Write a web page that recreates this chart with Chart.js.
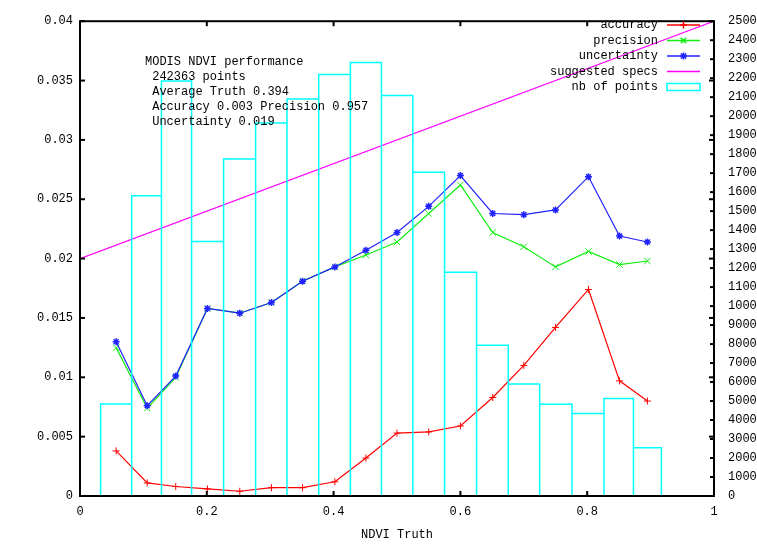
<!DOCTYPE html>
<html>
<head>
<meta charset="utf-8">
<script src="https://cdn.jsdelivr.net/npm/chart.js"></script>
<style>
body{margin:0;background:#fff}
canvas{display:block}
</style>
</head>
<body>
<canvas id="ndvi_chart" width="757" height="544"></canvas>
<script>
// mean NDVI truth of each bin
var truth = [0.057,0.106,0.151,0.201,0.252,0.302,0.351,0.402,0.451,0.5,0.55,0.6,0.651,0.7,0.75,0.802,0.851,0.895]
var accuracy = [0.0038,0.0011,0.0008,0.0006,0.0004,0.0007,0.0007,0.0012,0.0032,0.0053,0.0054,0.0059,0.0083,0.011,0.0142,0.0174,0.0097,0.008]
var precision = [0.0125,0.0074,0.0100,0.0158,0.0154,0.0163,0.0181,0.0193,0.0203,0.0214,0.0238,0.0262,0.0222,0.021,0.0193,0.0206,0.0195,0.0198]
var uncertainty = [0.0130,0.0076,0.0101,0.0158,0.0154,0.0163,0.0181,0.0193,0.0207,0.0222,0.0244,0.0270,0.0238,0.0237,0.0241,0.0269,0.0219,0.0214]
var nbPoints = [4850,15810,21850,13400,17750,19640,20900,22190,22830,21090,17050,11780,7940,5900,4830,4350,5140,2540]
var specX = [0,1]
var specY = [0.02,0.04]

var xTickValues = [0,0.2,0.4,0.6,0.8,1]
var xTickLabels = ['0','0.2','0.4','0.6','0.8','1']
var leftTickValues = [0,0.005,0.01,0.015,0.02,0.025,0.03,0.035,0.04]
var leftTickLabels = ['0','0.005','0.01','0.015','0.02','0.025','0.03','0.035','0.04']
var rightTickValues = [0,1000,2000,3000,4000,5000,6000,7000,8000,9000,10000,11000,12000,13000,14000,15000,16000,17000,18000,19000,20000,21000,22000,23000,24000,25000]
var rightTickLabels = ['0','1000','2000','3000','4000','5000','6000','7000','8000','9000','1000','1100','1200','1300','1400','1500','1600','1700','1800','1900','2000','2100','2200','2300','2400','2500']

var infoLines = ['MODIS NDVI performance',' 242363 points',' Average Truth 0.394',' Accuracy 0.003 Precision 0.957',' Uncertainty 0.019']
var keyNames = ['accuracy','precision','uncertainty','suggested specs','nb of points']

var FONT = {family:'Liberation Mono', size:12}
var RED = '#ff0000', GREEN = '#11ee11', BLUE = '#2222ff', MAGENTA = '#ff00ff', CYAN = '#00ffff'

function pts(xs, ys){
    return xs.map(function(x,i){ return {x:x, y:ys[i]} })
}
// gnuplot "boxes": each box reaches half way to its neighbours
function boxOutline(xs, hs){
    var out = []
    for(var i=0;i<xs.length;i++){
        var l = i>0 ? (xs[i-1]+xs[i])/2 : xs[i]-(xs[i+1]-xs[i])/2
        var r = i<xs.length-1 ? (xs[i]+xs[i+1])/2 : xs[i]+(xs[i]-xs[i-1])/2
        out.push({x:l,y:0},{x:l,y:hs[i]},{x:r,y:hs[i]},{x:r,y:0})
    }
    return out
}

function line(ctx,x1,y1,x2,y2){
    ctx.beginPath(); ctx.moveTo(x1,y1); ctx.lineTo(x2,y2); ctx.stroke()
}
function marker(ctx,type,x,y,r){
    if(type=='cross' || type=='star'){
        line(ctx,x-r,y,x+r,y); line(ctx,x,y-r,x,y+r)
    }
    if(type=='crossRot' || type=='star'){
        var d = r*0.75
        line(ctx,x-d,y-d,x+d,y+d); line(ctx,x-d,y+d,x+d,y-d)
    }
}

var gnuFrame = {
    id:'gnuFrame',
    afterDatasetsDraw(chart){
        var ctx = chart.ctx, a = chart.chartArea
        var sx = chart.scales.x, sy = chart.scales.y, sy2 = chart.scales.y2
        ctx.save()
        ctx.strokeStyle = '#000'
        ctx.lineWidth = 2
        xTickValues.forEach(function(v){
            var px = sx.getPixelForValue(v)
            line(ctx,px,a.bottom,px,a.bottom-5)
            line(ctx,px,a.top,px,a.top+5)
        })
        leftTickValues.forEach(function(v){
            var py = sy.getPixelForValue(v)
            line(ctx,a.left,py,a.left+5,py)
            line(ctx,a.right,py,a.right-5,py)
        })
        rightTickValues.forEach(function(v){
            var py = sy2.getPixelForValue(v)
            line(ctx,a.right,py,a.right-4,py)
        })
        ctx.strokeRect(a.left,a.top,a.right-a.left,a.bottom-a.top)

        // info text
        ctx.fillStyle = '#000'
        ctx.font = FONT.size+'px '+FONT.family
        ctx.textBaseline = 'middle'
        ctx.textAlign = 'left'
        infoLines.forEach(function(t,i){
            ctx.fillText(t,145,62+i*15)
        })

        // key, gnuplot style: text then sample
        var styles = [[RED,'cross'],[GREEN,'crossRot'],[BLUE,'star'],[MAGENTA,null],[CYAN,'box']]
        ctx.textAlign = 'right'
        keyNames.forEach(function(name,i){
            var y = 25+i*15.5
            ctx.fillStyle = '#000'
            ctx.fillText(name,658,y)
            ctx.strokeStyle = styles[i][0]
            ctx.lineWidth = 1.5
            if(styles[i][1]=='box'){
                ctx.strokeRect(667,y-3.5,33,7)
            }else{
                line(ctx,667,y,700,y)
                if(styles[i][1]){
                    marker(ctx,styles[i][1],683.5,y,3.5)
                }
            }
        })
        ctx.restore()
    }
}

var ctx = document.getElementById('ndvi_chart').getContext('2d')
var chart1 = new Chart(ctx,{
    type:'line',
    plugins:[gnuFrame],
    data:{
        datasets:[{
            label:'nb of points',
            data:boxOutline(truth,nbPoints),
            yAxisID:'y2',
            borderColor:CYAN,
            borderWidth:1.5,
            pointRadius:0,
            order:0
        },{
            label:'suggested specs',
            data:pts(specX,specY),
            yAxisID:'y',
            borderColor:MAGENTA,
            borderWidth:1.2,
            pointRadius:0,
            order:1
        },{
            label:'uncertainty',
            data:pts(truth,uncertainty),
            yAxisID:'y',
            borderColor:BLUE,
            borderWidth:1.2,
            pointStyle:'star',
            pointRadius:3.5,
            pointBorderWidth:1.5,
            pointBorderColor:BLUE,
            order:2
        },{
            label:'precision',
            data:pts(truth,precision),
            yAxisID:'y',
            borderColor:GREEN,
            borderWidth:1.2,
            pointStyle:'crossRot',
            pointRadius:4.5,
            pointBorderWidth:1,
            pointBorderColor:GREEN,
            order:3
        },{
            label:'accuracy',
            data:pts(truth,accuracy),
            yAxisID:'y',
            borderColor:RED,
            borderWidth:1.2,
            pointStyle:'cross',
            pointRadius:3.5,
            pointBorderWidth:1,
            pointBorderColor:RED,
            order:4
        }]
    },
    options:{
        responsive:false,
        animation:false,
        devicePixelRatio:1,
        layout:{padding:{top:13,left:0,right:0,bottom:0}},
        elements:{line:{tension:0,fill:false}},
        plugins:{
            legend:{display:false},
            tooltip:{enabled:false}
        },
        scales:{
            x:{
                type:'linear',
                position:'bottom',
                min:0,
                max:1,
                afterBuildTicks:function(s){ s.ticks = xTickValues.map(function(v){ return {value:v} }) },
                afterFit:function(s){ s.height = 48 },
                grid:{display:false,drawTicks:false},
                border:{display:false},
                ticks:{
                    callback:function(v,i){ return xTickLabels[i] },
                    autoSkip:false,
                    maxRotation:0,
                    padding:9,
                    color:'#000',
                    font:FONT
                },
                title:{display:true,text:'NDVI Truth',color:'#000',font:FONT,padding:{top:0,bottom:2}}
            },
            y:{
                type:'linear',
                position:'left',
                min:0,
                max:0.04,
                afterBuildTicks:function(s){ s.ticks = leftTickValues.map(function(v){ return {value:v} }) },
                afterFit:function(s){ s.width = 80 },
                grid:{display:false,drawTicks:false},
                border:{display:false},
                ticks:{
                    callback:function(v,i){ return leftTickLabels[i] },
                    autoSkip:false,
                    padding:7,
                    color:'#000',
                    font:FONT
                }
            },
            y2:{
                type:'linear',
                position:'right',
                min:0,
                max:25000,
                afterBuildTicks:function(s){ s.ticks = rightTickValues.map(function(v){ return {value:v} }) },
                afterFit:function(s){ s.width = 43 },
                grid:{display:false,drawTicks:false},
                border:{display:false},
                ticks:{
                    callback:function(v,i){ return rightTickLabels[i] },
                    autoSkip:false,
                    padding:14,
                    color:'#000',
                    font:FONT
                }
            }
        }
    }
})
</script>
</body>
</html>
